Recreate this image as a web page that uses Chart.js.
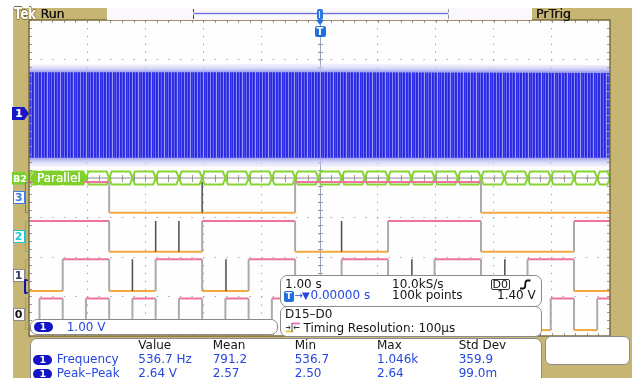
<!DOCTYPE html>
<html>
<head>
<meta charset="utf-8">
<script src="https://cdn.jsdelivr.net/npm/chart.js@4.4.1/dist/chart.umd.min.js"></script>
<style>
  html, body { margin: 0; padding: 0; background: #fff; }
  #scope { position: relative; width: 632px; height: 378px; overflow: hidden;
           font-family: "DejaVu Sans", sans-serif; font-size: 12px; line-height: 12px; color: #151515; }
  #bezel { position: absolute; left: 13px; top: 8px; width: 619px; height: 370px; background: #c7b673; }
  #scope canvas { position: absolute; left: 0; top: 0; }
  .t { position: absolute; white-space: nowrap; }
  .blue { color: #2547e0; }
  .box { position: absolute; background: #fff; border: 1px solid #8a8a8a; border-radius: 7px; box-sizing: border-box; }
  .pill { position: absolute; width: 19px; height: 10.5px; border-radius: 6px; background: #1414c6; color: #fff;
          font-size: 9.5px; line-height: 10.5px; font-weight: bold; text-align: center; }
  .mk { position: absolute; box-sizing: border-box; font-weight: bold; font-size: 11px; line-height: 12px; text-align: center; background: #fff; }
  .br { position: absolute; box-sizing: border-box; border-right: none; border-radius: 2px; }
</style>
</head>
<body>
<div id="scope">
  <div id="bezel"></div>
  <canvas id="scope_graph" width="632" height="378"></canvas>

  <!-- status bar -->
  <div class="t" style="left:14px;top:7.3px;font-size:15px;line-height:15px;font-weight:bold;color:#fff;transform:scaleX(0.78);transform-origin:0 0;text-shadow:-0.6px 0 #7a6b3e,0.6px 0 #7a6b3e,0 0.6px #7a6b3e,0 -0.6px #7a6b3e;">Tek</div>
  <div class="t" style="left:40.5px;top:8px;font-size:12.5px;text-shadow:0.3px 0 #1a1a1a;">Run</div>
  <div style="position:absolute;left:107px;top:8px;width:425px;height:12px;background:#fbf8fc;"></div>
  <div style="position:absolute;left:193px;top:9px;width:256px;height:10px;border-left:1px solid #3c3c3c;border-right:1px solid #9a9a9a;box-sizing:border-box;"></div>
  <div style="position:absolute;left:194px;top:12.5px;width:254px;height:1.5px;background:#6b6bdc;box-shadow:0 0 1px 1px #dcdcf6;"></div>
  <div style="position:absolute;left:316.5px;top:8.5px;width:6px;height:11px;background:#2c78dc;border-radius:2px;"></div>
  <div style="position:absolute;left:318.8px;top:10.5px;width:1.4px;height:7px;background:#d6e6fa;"></div>
  <div class="t" style="left:536px;top:8px;font-size:12.5px;text-shadow:0.3px 0 #1a1a1a;">PrTrig</div>
  <div style="position:absolute;left:316px;top:20px;width:8px;height:5px;background:#2a70d8;clip-path:polygon(0 0,100% 0,50% 100%);"></div>
  <div style="position:absolute;left:314.5px;top:26px;width:11px;height:11px;background:#1f6fdf;border-radius:2px;color:#fff;font-weight:bold;font-size:10px;line-height:11px;text-align:center;">T</div>

  <!-- channel markers -->
  <div class="mk" style="left:12px;top:107px;width:17px;height:13px;line-height:13px;background:#1616c6;color:#fff;text-align:left;padding-left:3px;clip-path:polygon(0 0,72% 0,100% 50%,72% 100%,0 100%);">1</div>
  <div class="mk" style="left:12px;top:171.5px;width:17px;height:13px;line-height:13px;background:#79cf2b;color:#fff;font-size:9.5px;text-align:left;padding-left:1px;clip-path:polygon(0 0,78% 0,100% 50%,78% 100%,0 100%);">B2</div>
  <div class="mk" style="left:12.5px;top:191px;width:12px;height:13px;border:1px solid #3f7fe6;color:#3f7fe6;">3</div>
  <div class="br" style="left:24.5px;top:182px;width:3px;height:31px;border:1.5px solid #3f7fe6;border-right:none;"></div>
  <div class="mk" style="left:12.5px;top:230px;width:12px;height:13px;border:1px solid #22c4d8;color:#22c4d8;">2</div>
  <div class="br" style="left:24.5px;top:221px;width:3px;height:31px;border:1.5px solid #22c4d8;border-right:none;"></div>
  <div class="mk" style="left:12.5px;top:268.5px;width:12px;height:13px;border:1px solid #8c8c8c;color:#3a3a5a;">1</div>
  <div class="br" style="left:24.5px;top:259px;width:3px;height:32px;border:1.5px solid #9a9a9a;border-right:none;"></div>
  <div class="br" style="left:23.5px;top:279px;width:4px;height:15px;border:2px solid #1010a8;border-right:none;"></div>
  <div class="mk" style="left:12.5px;top:307.5px;width:12px;height:13px;border:1px solid #8c8c8c;color:#111;">0</div>
  <div class="br" style="left:24.5px;top:298px;width:3px;height:32px;border:1.5px solid #9a9a9a;border-right:none;"></div>

  <!-- bus label -->
  <div class="t" style="left:30px;top:171px;width:56px;height:14px;background:#7fd02c;clip-path:polygon(4px 0,calc(100% - 4px) 0,100% 50%,calc(100% - 4px) 100%,4px 100%,0 50%);"></div>
  <div class="t" style="left:37px;top:172px;color:#fff;text-shadow:0 0 0.5px #fff;">Parallel</div>

  <!-- horizontal / trigger readout -->
  <div class="box" style="left:280px;top:275px;width:262px;height:32px;"></div>
  <div class="t" style="left:285px;top:278.3px;">1.00 s</div>
  <div class="t" style="left:392px;top:278.3px;">10.0kS/s</div>
  <div class="t" style="left:491px;top:278.5px;width:18.5px;height:11px;border:1px solid #333;border-radius:2px;box-sizing:border-box;font-size:11px;line-height:9px;text-align:center;">D0</div>
  <svg style="position:absolute;left:519px;top:279px;" width="13" height="11"><path d="M1 9.5 H4.2 Q6.3 9.5 6.3 5.5 Q6.3 1.5 8.4 1.5 H11.5" fill="none" stroke="#111" stroke-width="1.8"/></svg>
  <div class="t" style="left:283.5px;top:291px;width:10.5px;height:10.5px;background:#1f6fdf;border-radius:2px;color:#fff;font-weight:bold;font-size:9px;line-height:10.5px;text-align:center;">T</div>
  <div class="t blue" style="left:294.5px;top:289.5px;font-size:10px;letter-spacing:-1px;">→▼</div>
  <div class="t blue" style="left:310.5px;top:289.3px;">0.00000 s</div>
  <div class="t" style="left:392px;top:289.3px;">100k points</div>
  <div class="t" style="left:497px;top:289.3px;">1.40 V</div>

  <!-- bus readout -->
  <div class="box" style="left:280px;top:306px;width:262px;height:31px;"></div>
  <div class="t" style="left:285px;top:308.3px;">D15–D0</div>
  <svg style="position:absolute;left:285px;top:322px;" width="16" height="11"><path d="M7 1.5 H15" stroke="#e95fae" stroke-width="1.6"/><path d="M0.5 9.5 H8" stroke="#e6c22a" stroke-width="1.6"/><path d="M7 1 V10" stroke="#555" stroke-width="1"/><path d="M1 5.5 H5 M3.6 4 L5.2 5.5 L3.6 7 M14.5 5.5 H9 M10.4 4 L8.8 5.5 L10.4 7" fill="none" stroke="#333" stroke-width="1"/></svg>
  <div class="t" style="left:303.5px;top:321.5px;">Timing Resolution: 100µs</div>

  <!-- channel 1 scale -->
  <div class="box" style="left:30px;top:318.5px;width:248px;height:16.5px;"></div>
  <div class="pill" style="left:33.5px;top:321.5px;">1</div>
  <div class="t blue" style="left:66.7px;top:320.5px;">1.00 V</div>

  <!-- measurements -->
  <div class="box" style="left:30px;top:337.5px;width:512px;height:52px;"></div>
  <div class="box" style="left:545px;top:336px;width:85px;height:28.5px;border-radius:6px;"></div>
  <div class="t" style="left:138.3px;top:339.2px;">Value</div>
  <div class="t" style="left:212.7px;top:339.2px;">Mean</div>
  <div class="t" style="left:294.7px;top:339.2px;">Min</div>
  <div class="t" style="left:377px;top:339.2px;">Max</div>
  <div class="t" style="left:458.7px;top:339.2px;">Std Dev</div>
  <div class="pill" style="left:33.3px;top:354.5px;">1</div>
  <div class="t blue" style="left:56.7px;top:353.2px;">Frequency</div>
  <div class="t blue" style="left:138.3px;top:353.2px;">536.7 Hz</div>
  <div class="t blue" style="left:212.7px;top:353.2px;">791.2</div>
  <div class="t blue" style="left:294.7px;top:353.2px;">536.7</div>
  <div class="t blue" style="left:377px;top:353.2px;">1.046k</div>
  <div class="t blue" style="left:458.7px;top:353.2px;">359.9</div>
  <div class="pill" style="left:33.3px;top:368.5px;">1</div>
  <div class="t blue" style="left:56.7px;top:367.2px;">Peak–Peak</div>
  <div class="t blue" style="left:138.3px;top:367.2px;">2.64 V</div>
  <div class="t blue" style="left:212.7px;top:367.2px;">2.57</div>
  <div class="t blue" style="left:294.7px;top:367.2px;">2.50</div>
  <div class="t blue" style="left:377px;top:367.2px;">2.64</div>
  <div class="t blue" style="left:458.7px;top:367.2px;">99.0m</div>
</div>

<script>
// horizontal: 1.00 s/div, trigger in the middle; vertical in divisions
const timeMin = -5, timeMax = 5;
const divMin = -4, divMax = 4;

// ch1 envelope (volts)
const ch1Time = [-5, 0, 5];
const ch1Upper = [1.03, 1.03, 1.01];
const ch1Lower = [-1.14, -1.14, -1.14];
const ch1PeakHi = [1.22, 1.24, 1.21];
const ch1PeakLo = [-1.36, -1.37, -1.36];

// digital channels: level at the left edge and the times (s) they toggle
const d3Start = 1;
const d3Edges = [-3.62, -0.42, 2.78];
const d2Start = 1;
const d2Edges = [-3.62, -2.02, -0.42, 1.18, 2.78, 4.38];
const d1Start = 0;
const d1Edges = [-4.42, -3.62, -2.82, -2.02, -1.22, -0.42, 0.38, 1.18, 1.98, 2.78, 3.58, 4.38];
const d0Start = 0;
const d0Edges = [-4.82, -4.42, -4.02, -3.62, -3.22, -2.82, -2.42, -2.02, -1.62, -1.22, -0.82, -0.42,
                 -0.02, 0.38, 0.78, 1.18, 1.58, 1.98, 2.38, 2.78, 3.18, 3.58, 3.98, 4.38, 4.78];

// short spikes seen on the traces (s)
const d3Glitches = [-2.02];
const d2Glitches = [-2.82, -2.42, 0.38];
const d1Glitches = [-3.22, -1.61, 1.59, 3.19];

// parallel bus word boundaries (s)
const busEdges = [-4.82, -4.42, -4.02, -3.62, -3.22, -2.82, -2.42, -2.02, -1.62, -1.22, -0.82, -0.42,
                  -0.02, 0.38, 0.78, 1.18, 1.58, 1.98, 2.38, 2.78, 3.18, 3.58, 3.98, 4.38, 4.78];

// screen positions (divisions)
const ch1Offset = 1.65;
const d3Pos = [-0.88, -0.10];
const d2Pos = [-1.87, -1.09];
const d1Pos = [-2.86, -2.06];
const d0Pos = [-3.85, -3.05];
const busPos = 0, busHalf = 0.165, busNotch = 0.045;

const highPink = '#f0729f';
const lowOrange = '#f3a93c';
const edgeGray = '#ababab';

let canvas = document.getElementById('scope_graph');
let ctx = canvas.getContext('2d');

function stripes(cols) {
    let c = document.createElement('canvas');
    c.width = cols.length; c.height = 1;
    let g = c.getContext('2d');
    cols.forEach((col, i) => { g.fillStyle = col; g.fillRect(i, 0, 1, 1); });
    return ctx.createPattern(c, 'repeat');
}
let denseFill = stripes(['#2626e2', '#3030e6', '#8a8af2', '#2828e4', '#3434e8', '#6464ee', '#2424e0', '#3a3ae8',
                         '#9a9af4', '#2e2ee6', '#4444ea', '#2a2ae4', '#7070f0']);

// pale fuzz above and below the dense body
function haloFill(c) {
    let chart = c.chart;
    if (!chart.chartArea) return '#d8d8f8';
    let y = chart.scales.y;
    let top = y.getPixelForValue(ch1PeakHi[1] + ch1Offset);
    let bot = y.getPixelForValue(ch1PeakLo[1] + ch1Offset);
    let g = chart.ctx.createLinearGradient(0, top, 0, bot);
    let inTop = (y.getPixelForValue(ch1Upper[1] + ch1Offset) - top) / (bot - top);
    let inBot = (y.getPixelForValue(ch1Lower[1] + ch1Offset) - top) / (bot - top);
    g.addColorStop(0, 'rgba(215,215,248,0.25)');
    g.addColorStop(inTop * 0.5, 'rgba(205,205,246,0.7)');
    g.addColorStop(inTop, 'rgba(160,160,240,1)');
    g.addColorStop(inBot, 'rgba(160,160,240,1)');
    g.addColorStop(inBot + (1 - inBot) * 0.5, 'rgba(205,205,246,0.7)');
    g.addColorStop(1, 'rgba(215,215,248,0.25)');
    return g;
}

function ch1Points(values) {
    return ch1Time.map((t, i) => ({x: t, y: values[i] + ch1Offset}));
}

function stepPoints(start, edges, pos) {
    let cur = start;
    let pts = [{x: timeMin, y: pos[cur]}];
    edges.forEach(t => {
        pts.push({x: t, y: pos[cur]});
        cur = 1 - cur;
        pts.push({x: t, y: pos[cur]});
    });
    pts.push({x: timeMax, y: pos[cur]});
    return pts;
}

function digital(start, edges, pos) {
    return {
        data: stepPoints(start, edges, pos),
        borderWidth: 2,
        borderColor: edgeGray,
        order: 3,
        segment: {
            borderColor: c => c.p0.parsed.y !== c.p1.parsed.y ? edgeGray : (c.p0.parsed.y === pos[1] ? highPink : lowOrange)
        }
    };
}

function spikes(times, pos) {
    let pts = [];
    times.forEach(t => { pts.push({x: t, y: pos[0]}, {x: t, y: pos[1]}, {x: t, y: null}); });
    return { data: pts, borderColor: '#4d4d4d', borderWidth: 1.5, spanGaps: false, order: 2 };
}

function busPoints() {
    let b = [timeMin].concat(busEdges, [timeMax]);
    let pts = [];
    for (let i = 0; i < b.length - 1; i++) {
        let a = b[i], z = b[i + 1];
        let d = Math.min(busNotch, (z - a) / 2);
        pts.push({x: a, y: busPos}, {x: a + d, y: busPos + busHalf}, {x: z - d, y: busPos + busHalf},
                 {x: z, y: busPos}, {x: z - d, y: busPos - busHalf}, {x: a + d, y: busPos - busHalf},
                 {x: a, y: busPos}, {x: z, y: null});
    }
    return pts;
}

const screenPlugin = {
    id: 'screen',
    beforeDraw(chart) {
        let a = chart.chartArea, c = chart.ctx;
        c.save();
        c.fillStyle = '#fefefe';
        c.fillRect(a.left, a.top, a.right - a.left, a.bottom - a.top);
        c.restore();
    },
    beforeDatasetsDraw(chart) {
        let a = chart.chartArea, c = chart.ctx, x = chart.scales.x, y = chart.scales.y;
        c.save();
        let tx = Math.round(x.getPixelForValue(0)) + 0.5;
        c.strokeStyle = '#98a4c0';
        c.lineWidth = 1;
        c.beginPath(); c.moveTo(tx, a.top); c.lineTo(tx, a.bottom); c.stroke();
        // centre line minor ticks
        c.strokeStyle = '#9c9c9c';
        c.beginPath();
        let cy = Math.round(y.getPixelForValue(0)) + 0.5;
        for (let v = timeMin; v <= timeMax + 1e-9; v += 0.2) {
            let px = Math.round(x.getPixelForValue(v)) + 0.5;
            c.moveTo(px, cy - 3.5); c.lineTo(px, cy + 3.5);
        }
        for (let v = divMin; v <= divMax + 1e-9; v += 0.2) {
            let py = Math.round(y.getPixelForValue(v)) + 0.5;
            c.moveTo(tx - 2.5, py); c.lineTo(tx + 2.5, py);
        }
        c.stroke();
        c.restore();
    },
    afterDatasetsDraw(chart) {
        let a = chart.chartArea, c = chart.ctx, x = chart.scales.x, y = chart.scales.y;
        c.save();
        c.strokeStyle = '#9a9a9a';
        c.lineWidth = 1;
        c.beginPath();
        for (let v = timeMin; v <= timeMax + 1e-9; v += 0.2) {
            let px = Math.round(x.getPixelForValue(v)) + 0.5;
            c.moveTo(px, a.top); c.lineTo(px, a.top + 3);
            c.moveTo(px, a.bottom); c.lineTo(px, a.bottom - 3);
        }
        for (let v = divMin; v <= divMax + 1e-9; v += 0.2) {
            let py = Math.round(y.getPixelForValue(v)) + 0.5;
            c.moveTo(a.left, py); c.lineTo(a.left + 3, py);
            c.moveTo(a.right, py); c.lineTo(a.right - 3, py);
        }
        c.stroke();
        c.strokeStyle = '#7d6d3c';
        c.lineWidth = 1.5;
        c.strokeRect(a.left, a.top, a.right - a.left, a.bottom - a.top);
        c.restore();
    }
};

window.scope_chart = new Chart(ctx, {
    type: 'line',
    data: {
        datasets: [
            // ch1 fuzz and dense body
            { data: ch1Points(ch1PeakHi), borderColor: 'rgba(0,0,0,0)', backgroundColor: haloFill, fill: '+1', order: 9 },
            { data: ch1Points(ch1PeakLo), borderColor: 'rgba(0,0,0,0)', fill: false, order: 9 },
            { data: ch1Points(ch1Upper), borderColor: 'rgba(0,0,0,0)', backgroundColor: denseFill, fill: '+1', order: 8 },
            { data: ch1Points(ch1Lower), borderColor: 'rgba(0,0,0,0)', fill: false, order: 8 },
            // parallel bus
            { data: [{x: busEdges[2], y: busPos}, {x: timeMax, y: busPos}], borderColor: '#8e8e8e', borderWidth: 1, order: 7 },
            { data: busPoints(), borderColor: '#86d42e', borderWidth: 2, spanGaps: false, order: 6 },
            // digital channels
            digital(d3Start, d3Edges, d3Pos),
            digital(d2Start, d2Edges, d2Pos),
            digital(d1Start, d1Edges, d1Pos),
            digital(d0Start, d0Edges, d0Pos),
            spikes(d3Glitches, d3Pos),
            spikes(d2Glitches, d2Pos),
            spikes(d1Glitches, d1Pos)
        ]
    },
    options: {
        responsive: false,
        animation: false,
        devicePixelRatio: 1,
        layout: { padding: { left: 29, right: 22, top: 20, bottom: 42 } },
        plugins: { legend: { display: false }, tooltip: { enabled: false } },
        elements: { point: { radius: 0 }, line: { tension: 0, borderJoinStyle: 'miter' } },
        scales: {
            x: {
                type: 'linear', min: timeMin, max: timeMax,
                ticks: { display: false, stepSize: 1 },
                grid: { color: '#a8a8a8', lineWidth: 1, drawTicks: false, tickLength: 0 },
                border: { display: false, dash: [1.5, 6.4] }
            },
            y: {
                type: 'linear', min: divMin, max: divMax,
                ticks: { display: false, stepSize: 1 },
                grid: { color: '#a8a8a8', lineWidth: 1, drawTicks: false, tickLength: 0 },
                border: { display: false, dash: [1.5, 10.1] }
            }
        }
    },
    plugins: [screenPlugin]
});
</script>
</body>
</html>
